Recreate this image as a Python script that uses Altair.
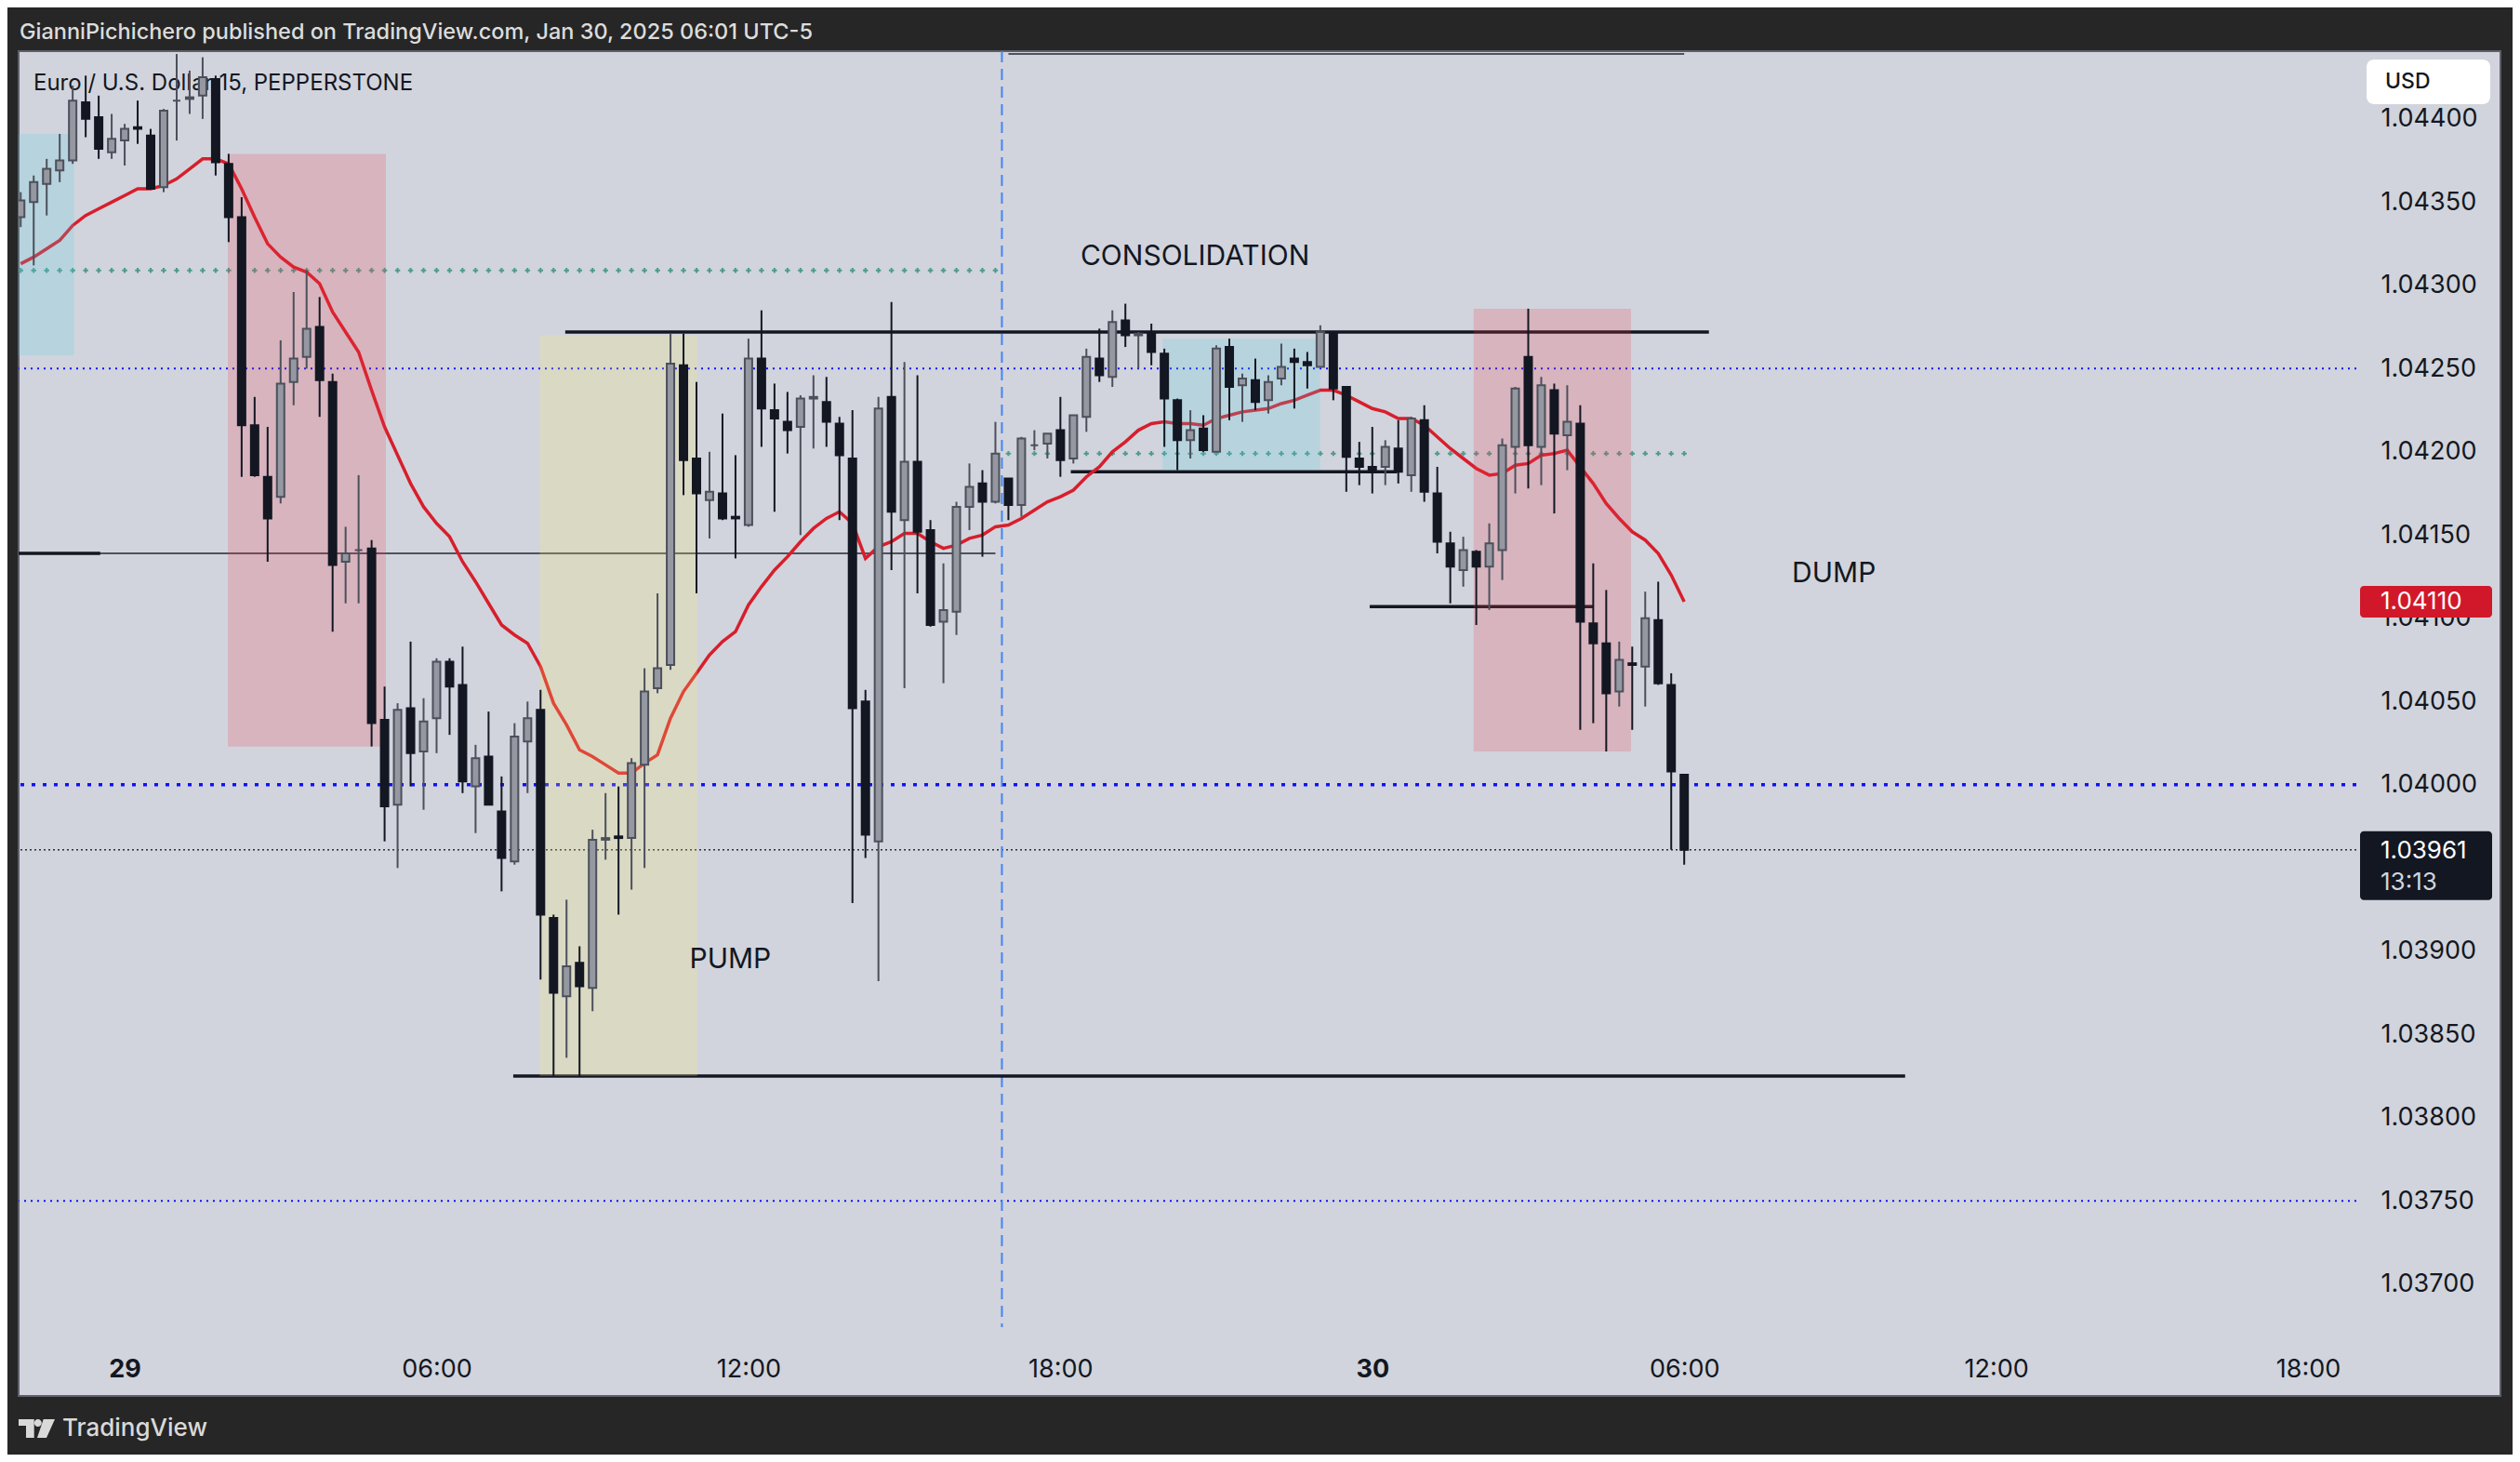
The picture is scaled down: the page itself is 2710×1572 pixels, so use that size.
import altair as alt
import numpy as np
import pandas as pd

# ---------------- data (EUR/USD 15m, prices in 1e-5 units) ----------------
BAR_START = "2025-01-28 22:00"
DAY0 = "2025-01-29 00:00"
SESSION2_START = "2025-01-29 17:00"

open5 = [
    104341, 104350, 104361, 104369, 104375, 104410, 104401, 104380, 104387, 104395,
    104390, 104359, 104411, 104412, 104414, 104424, 104373, 104341, 104216, 104185,
    104173, 104242, 104257, 104275, 104242, 104134, 104141, 104142, 104039, 103988,
    104046, 104020, 104040, 104074, 104060, 103999, 104017, 103984, 103954, 104026,
    104045, 103920, 103873, 103893, 103878, 103967, 103969, 103968, 104012, 104058,
    104072, 104252, 104196, 104171, 104175, 104161, 104156, 104256, 104225, 104218,
    104215, 104232, 104230, 104217, 104196, 104050, 103966, 104233, 104159, 104194,
    104153, 104098, 104104, 104167, 104181, 104170, 104184, 104168, 104204, 104205,
    104213, 104196, 104221, 104256, 104245, 104279, 104270, 104271, 104259, 104231,
    104207, 104214, 104200, 104263, 104240, 104243, 104231, 104244, 104256, 104254,
    104251, 104271, 104239, 104196, 104191, 104191, 104202, 104186, 104219, 104175,
    104145, 104129, 104140, 104131, 104141, 104203, 104257, 104203, 104237, 104210,
    104217, 104097, 104085, 104056, 104073, 104071, 104099, 104060, 104006,
]
high5 = [
    104356, 104366, 104376, 104391, 104420, 104426, 104414, 104403, 104397, 104411,
    104394, 104406, 104439, 104429, 104437, 104426, 104379, 104353, 104233, 104215,
    104267, 104296, 104309, 104293, 104247, 104155, 104186, 104147, 104059, 104049,
    104086, 104052, 104076, 104076, 104083, 104024, 104044, 104005, 104037, 104050,
    104057, 103922, 103931, 103903, 103973, 103995, 103999, 104016, 104070, 104115,
    104271, 104271, 104242, 104200, 104223, 104198, 104268, 104285, 104241, 104236,
    104234, 104246, 104245, 104221, 104225, 104057, 104233, 104290, 104254, 104246,
    104159, 104133, 104170, 104193, 104189, 104218, 104184, 104209, 104213, 104211,
    104233, 104222, 104262, 104274, 104285, 104289, 104272, 104277, 104262, 104232,
    104225, 104222, 104264, 104268, 104247, 104256, 104246, 104265, 104262, 104260,
    104276, 104272, 104239, 104206, 104215, 104207, 104219, 104221, 104228, 104191,
    104152, 104149, 104141, 104157, 104208, 104239, 104286, 104245, 104241, 104240,
    104228, 104133, 104117, 104086, 104083, 104116, 104122, 104067, 104006,
]
low5 = [
    104335, 104312, 104342, 104362, 104373, 104389, 104376, 104376, 104372, 104385,
    104358, 104356, 104387, 104403, 104400, 104366, 104326, 104185, 104185, 104134,
    104169, 104228, 104250, 104221, 104092, 104109, 104109, 104023, 103966, 103950,
    103999, 103985, 104019, 104030, 103995, 103971, 103988, 103936, 103952, 103995,
    103883, 103825, 103836, 103825, 103864, 103955, 103922, 103937, 103950, 104055,
    104069, 104174, 104115, 104148, 104159, 104136, 104155, 104203, 104164, 104199,
    104150, 104202, 104203, 104159, 103929, 103956, 103882, 104129, 104058, 104115,
    104095, 104061, 104090, 104153, 104137, 104169, 104159, 104161, 104201, 104196,
    104185, 104193, 104212, 104242, 104239, 104263, 104250, 104252, 104203, 104189,
    104196, 104200, 104200, 104219, 104218, 104225, 104223, 104240, 104226, 104238,
    104251, 104231, 104176, 104180, 104175, 104180, 104181, 104176, 104170, 104139,
    104109, 104119, 104096, 104105, 104123, 104175, 104178, 104180, 104163, 104189,
    104033, 104037, 104020, 104047, 104033, 104047, 104060, 103961, 103952,
]
close5 = [
    104351, 104362, 104370, 104375, 104411, 104400, 104382, 104388, 104394, 104394,
    104358, 104405, 104411, 104413, 104425, 104374, 104341, 104216, 104186, 104160,
    104241, 104256, 104274, 104243, 104132, 104139, 104141, 104037, 103987, 104045,
    104019, 104038, 104074, 104059, 104002, 104016, 103988, 103956, 104029, 104040,
    103922, 103875, 103891, 103879, 103967, 103968, 103968, 104013, 104056, 104070,
    104253, 104195, 104175, 104176, 104160, 104160, 104256, 104226, 104220, 104213,
    104232, 104233, 104218, 104198, 104046, 103970, 104226, 104164, 104194, 104152,
    104096, 104105, 104167, 104179, 104170, 104199, 104168, 104208, 104204, 104211,
    104195, 104222, 104257, 104246, 104278, 104270, 104271, 104260, 104232, 104207,
    104213, 104201, 104262, 104239, 104244, 104230, 104242, 104251, 104254, 104252,
    104272, 104238, 104197, 104191, 104188, 104203, 104188, 104220, 104176, 104146,
    104131, 104141, 104131, 104145, 104204, 104238, 104204, 104240, 104211, 104218,
    104098, 104085, 104055, 104075, 104072, 104100, 104061, 104008, 103961,
]
ema5 = [
    104313, 104317, 104322, 104327, 104336, 104342, 104346, 104350, 104354, 104358,
    104358, 104360, 104364, 104370, 104376, 104376, 104373, 104358, 104341, 104325,
    104317, 104311, 104308, 104301, 104284, 104272, 104260, 104237, 104215, 104198,
    104181, 104167, 104157, 104149, 104134, 104122, 104109, 104096, 104090, 104085,
    104071, 104049, 104036, 104021, 104017, 104012, 104007, 104007, 104013, 104018,
    104040, 104056, 104067, 104078, 104086, 104092, 104108, 104119, 104129, 104137,
    104146, 104154, 104160, 104164, 104157, 104136, 104143, 104146, 104151, 104151,
    104146, 104142, 104144, 104148, 104150, 104155, 104156, 104160, 104165, 104170,
    104173, 104177, 104185, 104191, 104200, 104206, 104213, 104217, 104218, 104217,
    104217, 104216, 104220, 104222, 104224, 104225, 104226, 104229, 104231, 104234,
    104237, 104237, 104234, 104230, 104226, 104224, 104220, 104220, 104216, 104209,
    104202, 104196, 104190, 104186, 104187, 104192, 104193, 104198, 104199, 104201,
    104191, 104181, 104169, 104160, 104152, 104147, 104139, 104126, 104110,
]

# daily reference levels (previous-session plots)
cross_level = {1: 1.04309, 2: 1.04199}
line_level = {1: 1.04139, 2: 1.04439}

# user drawings (x in hours from Jan 29 00:00)
box_t1 = [-2.5, 1.985, 7.985, 19.965, 25.95]
box_t2 = [-0.975, 5.025, 11.015, 22.995, 28.975]
box_top = [1.04391, 1.04379, 1.04270, 1.04268, 1.04286]
box_bot = [1.04258, 1.04023, 1.03825, 1.04189, 1.04020]
box_kind = ["blue", "red", "yellow", "blue", "red"]

seg_t1 = [8.475, 18.2, 23.95, 7.475, -2.5]
seg_t2 = [30.475, 24.475, 28.25, 34.25, -0.47]
seg_p = [1.04272, 1.04188, 1.04107, 1.03825, 1.04139]

note_text = ["CONSOLIDATION", "PUMP", "DUMP"]
note_t = [20.59, 11.65, 32.88]
note_p = [1.04317, 1.03895, 1.04127]

thin_blue_levels = [1.04250, 1.03750]
thick_blue_level = 1.04000

tick_hours = [0, 6, 12, 18, 24, 30, 36, 42]
tick_labels = ["29", "06:00", "12:00", "18:00", "30", "06:00", "12:00", "18:00"]
# 1.03950 sits under the last-price tag in the reference, so it is not listed
price_ticks = [1.03700, 1.03750, 1.03800, 1.03850, 1.03900, 1.04000,
               1.04050, 1.04100, 1.04150, 1.04200, 1.04250, 1.04300, 1.04350, 1.04400]

header_text = "GianniPichichero published on TradingView.com, Jan 30, 2025 06:01 UTC-5"
legend_text = "Euro / U.S. Dollar 15, PEPPERSTONE"
countdown = "13:13"

# ---------------- build tables ----------------
PX = 1e-5
t = pd.date_range(BAR_START, periods=len(open5), freq="15min")
hrs = ((t - pd.Timestamp(DAY0)) / pd.Timedelta(hours=1)).to_numpy()
candles = pd.DataFrame({
    "t": hrs,
    "o": np.array(open5) * PX, "h": np.array(high5) * PX,
    "l": np.array(low5) * PX, "c": np.array(close5) * PX,
    "ema": np.array(ema5) * PX,
})
candles["session"] = np.where(t >= pd.Timestamp(SESSION2_START), 2, 1)
candles["cross"] = candles["session"].map(cross_level)
candles["lvl"] = candles["session"].map(line_level)
s2_first = candles.loc[candles.session == 2, "t"].min()
s1_last = candles.loc[candles.session == 1, "t"].max()
session_break = pd.DataFrame({"t": [(s1_last + s2_first) / 2]})

boxes = pd.DataFrame({"t1": box_t1, "t2": box_t2, "top": box_top, "bot": box_bot, "kind": box_kind})
segs = pd.DataFrame({"t1": seg_t1, "t2": seg_t2, "p": seg_p})
notes = pd.DataFrame({"text": note_text, "t": note_t, "p": note_p})
last_close = float(candles["c"].iloc[-1])
last_ema = float(candles["ema"].iloc[-1])
tags = pd.DataFrame({"ema": [last_ema], "close": [last_close],
                     "ema_txt": [f"{last_ema:.5f}"], "close_txt": [f"{last_close:.5f}"],
                     "cd": [countdown]})
one = pd.DataFrame({"a": [0]})

# ---------------- scales / layout ----------------
W, H = 2514, 1372
DARK = "#262626"
LIGHT = "#d1d4dc"
INK = "#131722"
FONT = "Inter"
xs = alt.Scale(domain=[-1.951, 42.84], nice=False, zero=False)
ys = alt.Scale(domain=[1.036742, 1.044407], nice=False, zero=False)

label_expr = ("[" + ",".join(f"'{s}'" for s in tick_labels) + "][indexof(["
              + ",".join(str(v) for v in tick_hours) + "], datum.value)]")
x_axis = alt.Axis(values=tick_hours, labelExpr=label_expr, grid=False, domain=False,
                  ticks=False, tickSize=0, labelPadding=45, labelBaseline="middle",
                  labelFont=FONT, labelFontSize=27, labelColor=INK, title=None,
                  labelFlush=False, labelOverlap=False,
                  labelFontWeight={"condition": {"test": "datum.value % 24 === 0", "value": "bold"},
                                   "value": "normal"})
y_axis = alt.Axis(orient="right", values=price_ticks, format=".5f", grid=False, domain=False,
                  ticks=False, tickSize=0, labelPadding=26, labelAlign="left",
                  labelFont=FONT, labelFontSize=27, labelColor=INK, title=None,
                  labelOverlap=False, labelFlush=False)


def X(f):
    return alt.X(f, scale=xs, axis=x_axis)


def Y(f):
    return alt.Y(f, scale=ys, axis=y_axis)


def frame(x1, x2, y1, y2, color=DARK):
    return alt.Chart(one).mark_rect(color=color, clip=False).encode(
        x=alt.value(x1), x2=alt.value(x2), y=alt.value(y1), y2=alt.value(y2))


layers = [
    frame(-12, 2682, -47, 0),
    frame(-12, 0, -47, 1509),
    frame(2669, 2682, -47, 1509),
    frame(-12, 2682, 1446, 1509),
    alt.Chart(one).mark_rect(fill=None, stroke="#5d606b", strokeWidth=2, clip=False).encode(
        x=alt.value(0), x2=alt.value(2669), y=alt.value(0), y2=alt.value(1446)),
]

# symbol legend (drawn under the candles, as in TradingView)
layers.append(alt.Chart(one).mark_text(text=legend_text, font=FONT, fontSize=24, color=INK,
                                         align="left", baseline="middle").encode(
    x=alt.value(16), y=alt.value(35)))

# previous-session gray lines
layers.append(alt.Chart(candles).mark_line(color="#50535e", strokeWidth=2, clip=True).encode(
    x=X("t:Q"), y=Y("lvl:Q"), detail="session:N"))

# full-width dotted levels
for lv in thin_blue_levels:
    layers.append(alt.Chart(pd.DataFrame({"p": [lv]})).mark_rule(
        color="#1010ff", strokeWidth=2, strokeDash=[2, 5]).encode(y=Y("p:Q")))
layers.append(alt.Chart(pd.DataFrame({"p": [thick_blue_level]})).mark_rule(
    color="#1010ff", strokeWidth=3.5, strokeDash=[4, 8]).encode(y=Y("p:Q")))
layers.append(alt.Chart(tags).mark_rule(color="#2a2e39", strokeWidth=1.5, strokeDash=[2, 3]).encode(
    y=Y("close:Q")))

# session break
layers.append(alt.Chart(session_break).mark_rule(color="#4385f5", strokeWidth=2, strokeDash=[12, 7]).encode(
    x=X("t:Q")))

# green crosses
layers.append(alt.Chart(candles).mark_point(shape="M-1,0L1,0M0,-1L0,1", filled=False, size=30,
                                              strokeWidth=2, color="#4e9a8b", opacity=1, clip=True).encode(
    x=X("t:Q"), y=Y("cross:Q")))

# user horizontal lines
layers.append(alt.Chart(segs).mark_rule(color=INK, strokeWidth=3.5, clip=True).encode(
    x=X("t1:Q"), x2="t2:Q", y=Y("p:Q")))

# EMA
layers.append(alt.Chart(candles).mark_line(color="#d81e2c", strokeWidth=3.5, clip=True).encode(
    x=X("t:Q"), y=Y("ema:Q")))

# boxes
layers.append(alt.Chart(boxes).mark_rect(opacity=0.2, clip=True).encode(
    x=X("t1:Q"), x2="t2:Q", y=Y("top:Q"), y2="bot:Q",
    color=alt.Color("kind:N", legend=None,
                    scale=alt.Scale(domain=["blue", "red", "yellow"],
                                    range=["#4fd4e6", "#f23645", "#fef264"]))))

# candles
up = "datum.c >= datum.o"
layers.append(alt.Chart(candles).mark_rule(strokeWidth=2, clip=True).encode(
    x=X("t:Q"), y=Y("l:Q"), y2="h:Q",
    color=alt.condition(up, alt.value("#4c505b"), alt.value(INK))))
layers.append(alt.Chart(candles).mark_bar(size=8, strokeWidth=2, clip=True).encode(
    x=X("t:Q"), y=Y("o:Q"), y2="c:Q",
    fill=alt.condition(up, alt.value("#9598a1"), alt.value(INK)),
    stroke=alt.condition(up, alt.value("#4c505b"), alt.value(INK))))

# notes
layers.append(alt.Chart(notes).mark_text(font=FONT, fontSize=30, color=INK, align="center",
                                           baseline="middle", clip=True).encode(
    x=X("t:Q"), y=Y("p:Q"), text="text:N"))

# price scale tags
layers.append(alt.Chart(one).mark_rect(color="white", cornerRadius=8, clip=False).encode(
    x=alt.value(2525), x2=alt.value(2658), y=alt.value(9), y2=alt.value(57)))
layers.append(alt.Chart(one).mark_text(text="USD", font=FONT, fontSize=23, fontWeight=500, color=INK,
                                         align="left", baseline="middle").encode(
    x=alt.value(2545), y=alt.value(33)))
layers.append(alt.Chart(tags).mark_tick(orient="horizontal", size=142, thickness=34, color="#d1182b",
                                          opacity=1, cornerRadius=4).encode(
    x=alt.value(2589), y=Y("ema:Q")))
layers.append(alt.Chart(tags).mark_text(font=FONT, fontSize=26, color="white", align="left",
                                          baseline="middle").encode(
    x=alt.value(2540), y=Y("ema:Q"), text="ema_txt:N"))
layers.append(alt.Chart(tags).mark_tick(orient="horizontal", size=142, thickness=74, color=INK,
                                          opacity=1, cornerRadius=4, yOffset=17).encode(
    x=alt.value(2589), y=Y("close:Q")))
layers.append(alt.Chart(tags).mark_text(font=FONT, fontSize=26, color="white", align="left",
                                          baseline="middle", yOffset=1).encode(
    x=alt.value(2540), y=Y("close:Q"), text="close_txt:N"))
layers.append(alt.Chart(tags).mark_text(font=FONT, fontSize=26, color="#d1d4dc", align="left",
                                          baseline="middle", yOffset=35).encode(
    x=alt.value(2540), y=Y("close:Q"), text="cd:N"))

# header / footer
layers.append(alt.Chart(one).mark_text(text=header_text, font=FONT, fontSize=23.5, fontWeight=500,
                                         color="#dcdcdc", align="left", baseline="middle").encode(
    x=alt.value(1), y=alt.value(-20)))
logo_path = ("M-1,-0.513L-0.144,-0.513L-0.144,0.513L-0.59,0.513L-0.59,-0.154L-1,-0.154Z"
             "M-0.138,-0.308A0.205,0.205 0 1,0 0.272,-0.308A0.205,0.205 0 1,0 -0.138,-0.308Z"
             "M0.369,-0.513L1,-0.513L0.538,0.513L0.026,0.513Z")
layers.append(alt.Chart(one).mark_point(shape=logo_path, filled=True, size=1521, color="#d9d9d9",
                                          opacity=1, strokeWidth=0, clip=False).encode(
    x=alt.value(19.5), y=alt.value(1481)))
layers.append(alt.Chart(one).mark_text(text="TradingView", font=FONT, fontSize=26, fontWeight=500,
                                         color="#d9d9d9", align="left", baseline="middle").encode(
    x=alt.value(47), y=alt.value(1481)))

chart = alt.layer(*layers).properties(
    width=W, height=H,
    padding={"left": 12, "top": 47, "right": 168, "bottom": 137},
    autosize=alt.AutoSizeParams(type="none"),
    background=LIGHT,
).configure_view(stroke=None)

chart.save("out.html", embed_options={"renderer": "svg", "actions": False})
